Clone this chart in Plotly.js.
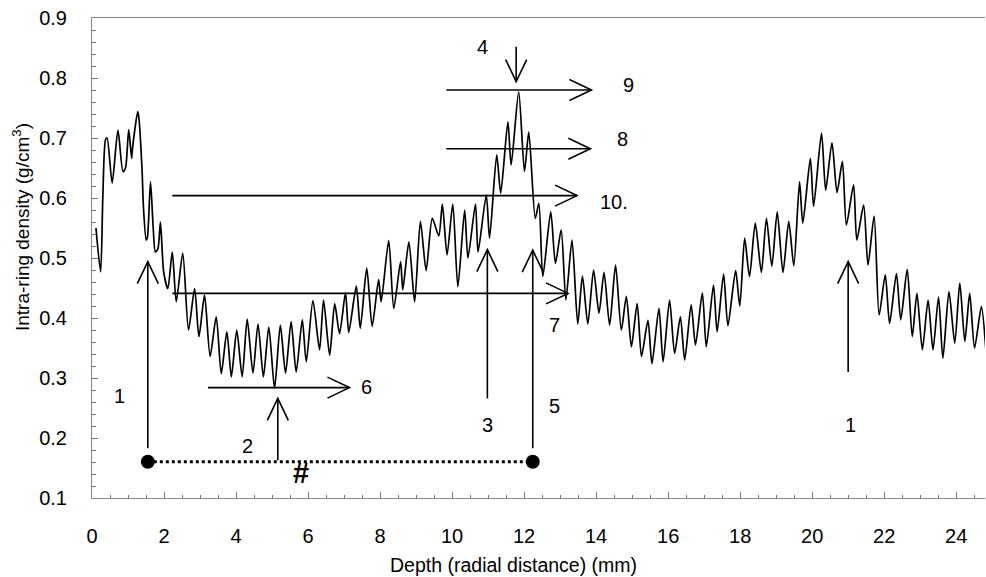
<!DOCTYPE html>
<html><head><meta charset="utf-8">
<script src="https://cdn.plot.ly/plotly-3.0.1.min.js"></script>
<style>html,body{margin:0;padding:0;background:#fff}#chart{width:986px;height:577px}</style>
</head><body><div id="chart"></div>
<script>
// Depth (mm) and intra-ring density (g/cm3) (peaks & troughs)
const depthMm = [
0.11,0.24,0.30,0.375,0.42,0.56,0.72,0.86,0.93,1.02,1.10,1.12,1.27,1.30,1.39,1.43,1.505,1.54,1.625,1.70,1.76,1.83,1.90,1.99,
2.106,2.23,2.34,2.52,2.68,2.85,2.97,3.125,3.28,3.45,3.59,3.745,3.87,4.02,4.17,4.31,4.47,4.61,4.76,4.91,5.07,5.23,5.375,5.53,5.67,5.84,5.95,
6.135,6.32,6.43,6.6,6.74,6.875,7.04,7.13,7.34,7.45,7.63,7.78,7.96,8.03,8.24,8.38,8.57,8.63,8.80,8.96,9.12,9.28,9.45,9.63,9.73,9.86,
10.02,10.16,10.35,10.44,10.65,10.72,10.95,11.04,11.24,11.35,11.55,11.64,11.85,12.01,12.13,12.31,12.41,12.52,12.74,12.87,13.03,13.16,13.33,13.49,13.62,13.77,13.93,
14.08,14.22,14.375,14.54,14.70,14.84,14.98,15.14,15.26,15.44,15.55,15.745,15.86,16.04,16.18,16.34,16.46,16.64,16.76,16.95,17.06,17.26,17.36,17.54,17.66,17.875,17.99,
18.125,18.26,18.42,18.59,18.73,18.88,19.03,19.19,19.35,19.49,19.65,19.74,19.95,20.04,20.26,20.375,20.55,20.69,20.84,20.95,21.15,21.24,21.43,21.55,21.72,21.86,
22.03,22.15,22.34,22.46,22.64,22.78,22.91,23.06,23.22,23.355,23.51,23.63,23.80,23.96,24.10,24.24,24.375,24.51,24.70,24.82
];
const density = [
0.55,0.477,0.60,0.697,0.70,0.625,0.713,0.644,0.65,0.714,0.666,0.68,0.744,0.735,0.647,0.583,0.53,0.535,0.627,0.55,0.51,0.515,0.56,0.477,
0.449,0.51,0.427,0.508,0.38,0.449,0.369,0.438,0.336,0.402,0.307,0.377,0.302,0.38,0.302,0.398,0.308,0.39,0.302,0.385,0.283,0.388,0.308,0.394,0.31,0.397,0.327,
0.429,0.347,0.43,0.338,0.424,0.374,0.442,0.376,0.453,0.383,0.483,0.386,0.464,0.427,0.529,0.416,0.494,0.447,0.527,0.427,0.561,0.479,0.566,0.537,0.59,0.505,
0.59,0.452,0.58,0.50,0.59,0.51,0.605,0.533,0.672,0.608,0.727,0.655,0.777,0.644,0.71,0.566,0.591,0.469,0.577,0.491,0.547,0.43,0.53,0.39,0.47,0.39,0.48,
0.408,0.476,0.388,0.488,0.38,0.436,0.352,0.424,0.336,0.396,0.324,0.416,0.327,0.43,0.341,0.402,0.33,0.422,0.355,0.442,0.352,0.455,0.377,0.473,0.387,0.479,0.42,
0.533,0.469,0.558,0.476,0.566,0.486,0.577,0.476,0.561,0.487,0.627,0.558,0.666,0.586,0.708,0.613,0.692,0.609,0.661,0.555,0.622,0.53,0.588,0.488,0.57,0.405,
0.472,0.391,0.474,0.397,0.481,0.369,0.441,0.347,0.43,0.347,0.435,0.333,0.444,0.358,0.458,0.361,0.441,0.35,0.419,0.35
];
// "#" interval between the two marked points
const intervalX = [1.55, 12.24];
const intervalY = [0.1605, 0.1605];

const xTickVals = [0,2,4,6,8,10,12,14,16,18,20,22,24];
const yTickVals = [0.1,0.2,0.3,0.4,0.5,0.6,0.7,0.8,0.9];

// annotation arrows: from (x0,y0) to tip (x1,y1)
const arrowDefs = [
  {x0:1.55, y0:0.183, x1:1.55, y1:0.494},
  {x0:5.16, y0:0.163, x1:5.16, y1:0.266},
  {x0:10.98, y0:0.266, x1:10.98, y1:0.514},
  {x0:12.24, y0:0.183, x1:12.24, y1:0.513},
  {x0:21.0, y0:0.31, x1:21.0, y1:0.494},
  {x0:11.78, y0:0.852, x1:11.78, y1:0.794},
  {x0:9.84, y0:0.78, x1:13.87, y1:0.78},
  {x0:9.84, y0:0.682, x1:13.84, y1:0.682},
  {x0:2.23, y0:0.604, x1:13.47, y1:0.604},
  {x0:2.23, y0:0.441, x1:13.22, y1:0.441},
  {x0:3.22, y0:0.284, x1:7.15, y1:0.284}
];
const labelDefs = [
  {t:'1', x:0.76, y:0.27}, {t:'2', x:4.31, y:0.187}, {t:'3', x:10.99, y:0.222},
  {t:'5', x:12.85, y:0.253}, {t:'1', x:21.07, y:0.222}, {t:'4', x:10.85, y:0.852},
  {t:'9', x:14.91, y:0.788}, {t:'8', x:14.73, y:0.698}, {t:'10.', x:14.51, y:0.594},
  {t:'7', x:12.85, y:0.388}, {t:'6', x:7.63, y:0.285}
];

const W = 986, H = 577;
const M = {l:92, r:1, t:18, b:79};
const X_RANGE = [0, 24.8], Y_RANGE = [0.1, 0.9];
const pxX = (W - M.l - M.r) / (X_RANGE[1] - X_RANGE[0]);
const pxY = (H - M.t - M.b) / (Y_RANGE[1] - Y_RANGE[0]);

function arrowShapes(a) {
  const dxp = (a.x1 - a.x0) * pxX, dyp = -(a.y1 - a.y0) * pxY;
  const len = Math.hypot(dxp, dyp);
  const ux = dxp / len, uy = dyp / len;
  const qx = -uy, qy = ux;
  const back = 22, half = 10.5;
  const p1x = a.x1 + (-back * ux + half * qx) / pxX;
  const p1y = a.y1 - (-back * uy + half * qy) / pxY;
  const p2x = a.x1 + (-back * ux - half * qx) / pxX;
  const p2y = a.y1 - (-back * uy - half * qy) / pxY;
  const ln = {color:'#000', width:1.6};
  return [
    {type:'line', xref:'x', yref:'y', x0:a.x0, y0:a.y0, x1:a.x1, y1:a.y1, line:ln},
    {type:'path', xref:'x', yref:'y', path:`M${p1x},${p1y} L${a.x1},${a.y1} L${p2x},${p2y}`, line:ln}
  ];
}

const FONT = 'Liberation Sans, Arial, Helvetica, sans-serif';
const shapes = [].concat(...arrowDefs.map(arrowShapes));
const annotations = labelDefs.map(l => ({
  x:l.x, y:l.y, xref:'x', yref:'y', text:l.t, showarrow:false,
  font:{family:FONT, size:20, color:'#000'}, xanchor:'center', yanchor:'middle'
}));
annotations.push({x:5.81, y:0.141, xref:'x', yref:'y', text:'<b>#</b>', showarrow:false,
  font:{family:FONT, size:29, color:'#000'}, xanchor:'center', yanchor:'middle'});
annotations.push({x:(21-M.l)/(W-M.l-M.r), y:(H-M.b-227)/(H-M.t-M.b), xref:'paper', yref:'paper',
  text:'Intra-ring density (g/cm<sup>3</sup>)', textangle:-90, showarrow:false,
  font:{family:FONT, size:19, color:'#000'}, xanchor:'center', yanchor:'middle'});
annotations.push({x:(513-M.l)/(W-M.l-M.r), y:(H-M.b-565)/(H-M.t-M.b), xref:'paper', yref:'paper',
  text:'Depth (radial distance) (mm)', showarrow:false,
  font:{family:FONT, size:19.5, color:'#000'}, xanchor:'center', yanchor:'middle'});

const traces = [
  {x:depthMm, y:density, type:'scatter', mode:'lines', line:{color:'#000', width:1.7, shape:'spline', smoothing:0.7}, hoverinfo:'skip'},
  {x:intervalX, y:intervalY, type:'scatter', mode:'lines+markers',
   line:{color:'#000', width:3, dash:'dot'}, marker:{color:'#000', size:14}, hoverinfo:'skip'}
];

const layout = {
  width:W, height:H, margin:M, showlegend:false,
  paper_bgcolor:'#fff', plot_bgcolor:'#fff',
  xaxis:{range:X_RANGE, tickvals:xTickVals, ticks:'inside', ticklen:6, tickcolor:'#777', tickwidth:1,
    minor:{dtick:0.5, tick0:0, ticks:'inside', ticklen:3, tickcolor:'#777'},
    showline:true, linecolor:'#888', linewidth:1, mirror:true, showgrid:false, zeroline:false,
    tickfont:{family:FONT, size:20, color:'#000'}, ticklabelstandoff:20},
  yaxis:{range:Y_RANGE, tickvals:yTickVals, tickformat:'.1f', ticks:'inside', ticklen:6, tickcolor:'#777', tickwidth:1,
    minor:{dtick:0.02, tick0:0.1, ticks:'inside', ticklen:4, tickcolor:'#777'},
    showline:true, linecolor:'#888', linewidth:1, mirror:false, showgrid:false, zeroline:false,
    tickfont:{family:FONT, size:20, color:'#000'}, ticklabelstandoff:20},
  shapes:shapes, annotations:annotations
};

Plotly.newPlot('chart', traces, layout, {displayModeBar:false, staticPlot:true});
</script>
</body></html>
